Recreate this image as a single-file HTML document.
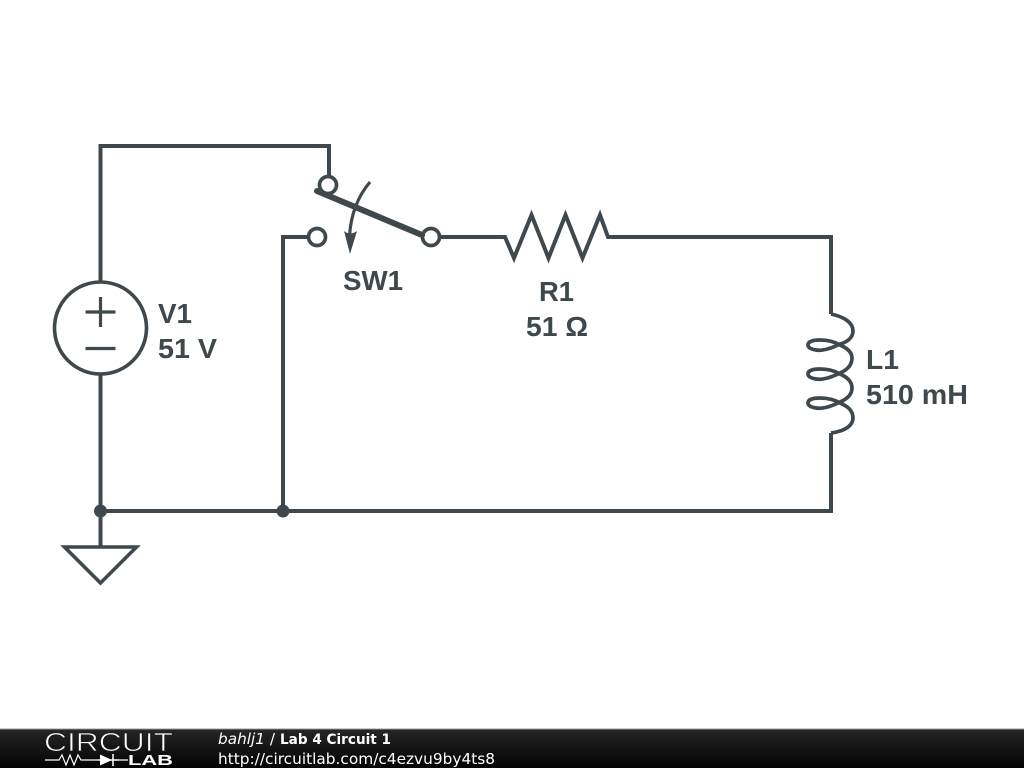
<!DOCTYPE html>
<html><head><meta charset="utf-8"><style>
html,body{margin:0;padding:0;background:#fff;width:1024px;height:768px;overflow:hidden}
svg{display:block}
.l{font-family:"Liberation Sans",sans-serif;font-weight:700;font-size:28px;fill:#3f484d}
.f{font-family:"DejaVu Sans",sans-serif;font-size:15.300px;fill:#fff}
</style></head><body>
<svg width="1024" height="768" viewBox="0 0 1024 768" xmlns="http://www.w3.org/2000/svg">
<defs><linearGradient id="g" x1="0" y1="0" x2="0" y2="1"><stop offset="0" stop-color="#262626"/><stop offset="1" stop-color="#030303"/></linearGradient></defs>
<rect width="1024" height="768" fill="#fff"/>
<g fill="none" stroke="#3f484d" stroke-width="4" stroke-linejoin="miter">
<path d="M100.500 282V146H329V177"/>
<path d="M100.500 374V547"/>
<path d="M100.500 511H831V433"/>
<path d="M283 511V237H309"/>
<path d="M440 237H505L514 258L531.500 215L548.500 258L565.500 215L582.500 258L600 215L608 237H831V314"/>
<circle cx="100.500" cy="328" r="46" stroke-width="3.600"/>
<path d="M85.500 312H115.500M100.500 297V327M85.500 348.500H115.500" stroke-width="3.200"/>
<path d="M64.500 547H136.500L100.500 583Z" stroke-width="3.600"/>
<circle cx="328" cy="185" r="8.500" stroke-width="3.700"/>
<circle cx="317" cy="237" r="8.500" stroke-width="3.700"/>
<circle cx="431" cy="237" r="8.500" stroke-width="3.700"/>
<path d="M831 314C845 317 853 323 853 331C853 337 848 342 840 344C830 349 822 351 816 350C810 349 808 347 808 345C808 342 812 340 820 340C828 340 835 342 840 345C847 348 852 352 852 358C852 365 847 370 840 373C830 378 822 380 816 379C810 378 808 376 808 374C808 371 812 369 820 369C828 369 835 371 840 374C847 377 852 381 852 388C852 395 847 399 840 402C830 407 822 409 816 408C810 407 808 405 808 403C808 400 812 398 820 398C828 398 835 400 840 403C847 406 853 410 853 418C853 425 846 431 831 433" stroke-width="3.700"/>
<path d="M370 182C359 195 351 212 349.500 236" stroke-width="3.200"/>
</g>
<path d="M317 191L422 235" stroke="#3f484d" stroke-width="6" stroke-linecap="round" fill="none"/>
<path d="M344 231Q350 236 357 231L350 254Z" fill="#3f484d"/>
<circle cx="100.500" cy="511" r="6.500" fill="#3f484d"/>
<circle cx="283" cy="511" r="6.500" fill="#3f484d"/>
<text class="l" x="343" y="290" textLength="60" lengthAdjust="spacingAndGlyphs">SW1</text>
<text class="l" x="539" y="301" textLength="35" lengthAdjust="spacingAndGlyphs">R1</text>
<text class="l" x="526" y="336" textLength="62" lengthAdjust="spacingAndGlyphs">51 Ω</text>
<text class="l" x="158" y="323" textLength="34" lengthAdjust="spacingAndGlyphs">V1</text>
<text class="l" x="158" y="358" textLength="59" lengthAdjust="spacingAndGlyphs">51 V</text>
<text class="l" x="866" y="369" textLength="33" lengthAdjust="spacingAndGlyphs">L1</text>
<text class="l" x="866" y="404" textLength="102" lengthAdjust="spacingAndGlyphs">510 mH</text>
<rect x="0" y="729" width="1024" height="39" fill="url(#g)"/>
<rect x="0" y="728.500" width="1024" height="1" fill="#999"/>
<text x="44" y="751" font-family="Liberation Sans,sans-serif" font-size="26" fill="#fff" stroke="#1b1b1b" stroke-width="0.800" textLength="129" lengthAdjust="spacingAndGlyphs">CIRCUIT</text>
<text x="128" y="765" font-family="Liberation Sans,sans-serif" font-weight="700" font-size="15" fill="#fff" textLength="45" lengthAdjust="spacingAndGlyphs">LAB</text>
<path d="M45 760H59L62 755L66 765L70 755L74 765L78 755L81 760H98M119 760H128" fill="none" stroke="#fff" stroke-width="1.200"/>
<path d="M100 754.500L112 760L100 765.500Z" fill="#fff"/>
<path d="M98 760H119M113 754V766" stroke="#fff" stroke-width="1.500" fill="none"/>
<text class="f" x="218" y="744"><tspan font-style="italic">bahlj1</tspan> /</text>
<text class="f" x="280" y="744" font-weight="700" style="font-size:14.500px" textLength="111" lengthAdjust="spacingAndGlyphs">Lab 4 Circuit 1</text>
<text class="f" x="218" y="764" textLength="277" lengthAdjust="spacingAndGlyphs">http://circuitlab.com/c4ezvu9by4ts8</text>
</svg>
</body></html>
